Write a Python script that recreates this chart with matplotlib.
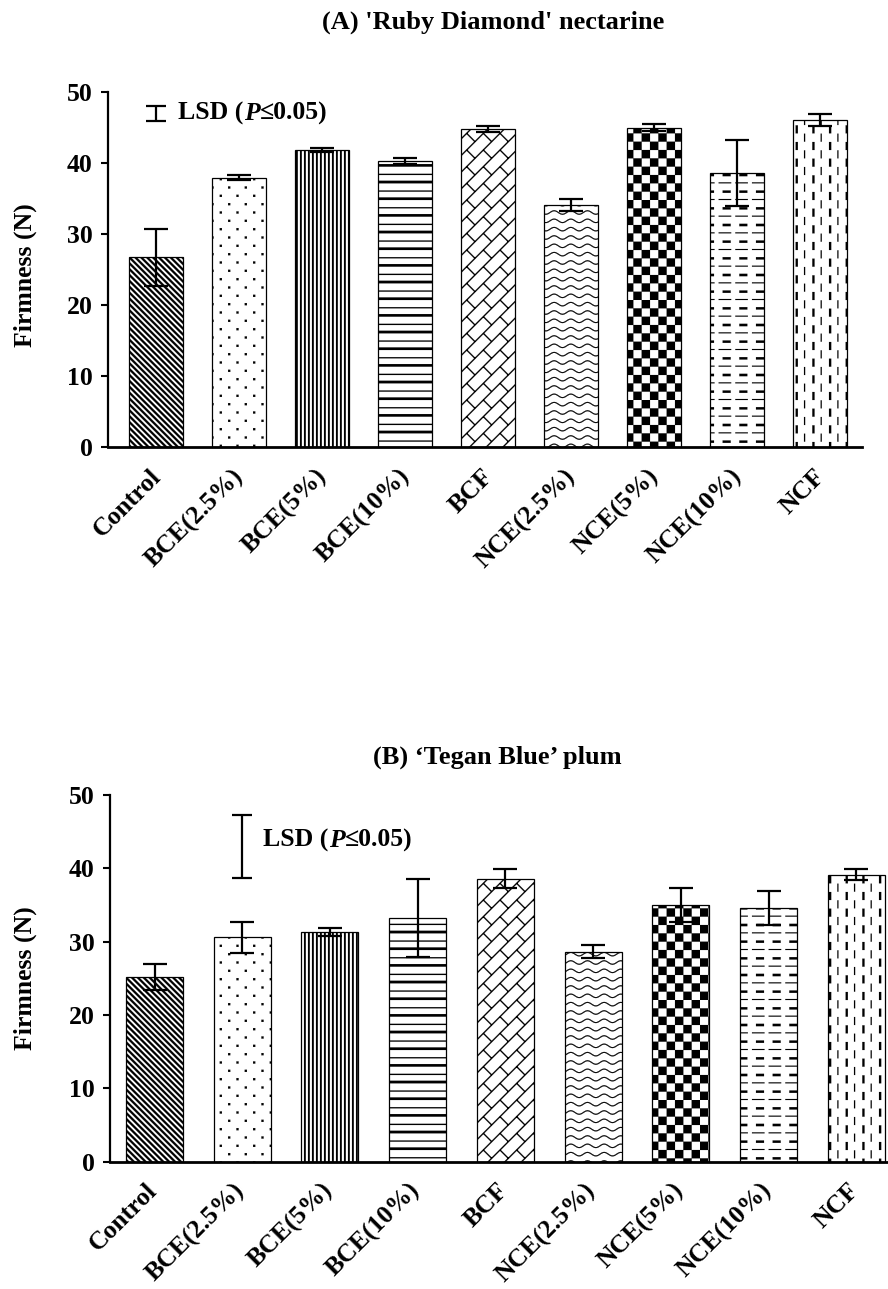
import warnings
warnings.filterwarnings("ignore")
import numpy as np
import matplotlib
matplotlib.use("Agg")
import matplotlib.pyplot as plt
import matplotlib.hatch as mhatch
from matplotlib.path import Path
from matplotlib.transforms import offset_copy

plt.rcParams['font.family'] = ['Liberation Serif', 'DejaVu Serif']
plt.rcParams['font.weight'] = 'bold'
plt.rcParams['hatch.linewidth'] = 0.1

# ---------------- data ----------------
categories = ['Control', 'BCE(2.5%)', 'BCE(5%)', 'BCE(10%)', 'BCF',
              'NCE(2.5%)', 'NCE(5%)', 'NCE(10%)', 'NCF']
firmness_A = [26.7, 37.9, 41.8, 40.2, 44.7, 34.0, 44.9, 38.5, 46.0]
error_A = [4.0, 0.3, 0.3, 0.4, 0.4, 0.85, 0.5, 4.65, 0.8]
firmness_B = [25.2, 30.6, 31.3, 33.2, 38.6, 28.65, 35.0, 34.6, 39.1]
error_B = [1.8, 2.1, 0.5, 5.35, 1.25, 0.9, 2.35, 2.35, 0.75]
lsd_A_center, lsd_A_half = 46.9, 1.1
lsd_B_center, lsd_B_half = 43.0, 4.3
yticks = [0, 10, 20, 30, 40, 50]
title_A = "(A) 'Ruby Diamond' nectarine"
title_B = "(B) \u2018Tegan Blue\u2019 plum"
hatch_codes = ['a', 'b', 'c', 'd', 'e', 'f', 'g', 'h', 'i']

# ---------------- custom hatch patterns (unit cell) ----------------
def _cw(p):
    p = np.asarray(p, float)
    x, y = p[:, 0], p[:, 1]
    area = 0.5 * np.sum(x * np.roll(y, -1) - np.roll(x, -1) * y)
    return p[::-1] if area > 0 else p

def seg(p0, p1, w):
    p0 = np.asarray(p0, float); p1 = np.asarray(p1, float)
    d = p1 - p0
    d = d / np.hypot(*d)
    n = np.array([-d[1], d[0]]) * w / 2
    return _cw([p0 + n, p1 + n, p1 - n, p0 - n])

def rect(x0, y0, w, h):
    return _cw([(x0, y0), (x0 + w, y0), (x0 + w, y0 + h), (x0, y0 + h)])

H = {}
# a: dense "\" stripes
n = 17; w = 0.03
H['a'] = [_cw([(-0.1, c + 0.1), (1.1, c - 1.1), (1.1, c + w - 1.1), (-0.1, c + w + 0.1)])
          for c in [k / n for k in range(-2, 2 * n + 2)]]
# b: sparse staggered dots
H['b'] = []
for j in range(12):
    for i in range(6):
        x = (i + 0.25) / 6 + (j % 2) * 0.5 / 6
        y = (j + 0.5) / 12
        H['b'].append(rect(x - 0.011, y - 0.011, 0.022, 0.022))
# c: dense vertical lines
H['c'] = [rect(k / 25, -0.1, 0.018, 1.2) for k in range(-1, 26)]
# d: horizontal lines alternating thick / thin
H['d'] = [rect(-0.1, k / 12, 1.2, 0.026 if k % 2 == 0 else 0.012) for k in range(-1, 13)]
# e: diagonal brick
H['e'] = []
for k in range(-7, 8):
    c = k / 6
    H['e'].append(seg(((-1.5 + c) / 2, (-1.5 - c) / 2), ((3.5 + c) / 2, (3.5 - c) / 2), 0.012))
    for j in range(-2, 9):
        t = j / 3 + (k % 2) / 6
        c2 = (k + 1) / 6
        H['e'].append(seg(((t + c) / 2, (t - c) / 2), ((t + c2) / 2, (t - c2) / 2), 0.012))
# f: wavy rows
H['f'] = []
xs = np.linspace(-0.1, 1.1, 121)
for j in range(-1, 13):
    y0 = (j + 0.5) / 12
    ys = y0 + 0.018 * np.sin(2 * np.pi * 6 * xs)
    for m in range(len(xs) - 1):
        H['f'].append(seg((xs[m], ys[m]), (xs[m + 1], ys[m + 1]), 0.009))
# g: checkerboard
H['g'] = [rect(i / 12, j / 12, 1 / 12, 1 / 12)
          for i in range(12) for j in range(12) if (i + j) % 2 == 0]
# h: horizontal dash rows (thin long / thick short)
H['h'] = []
for j in range(-1, 7):
    for i in range(-1, 7):
        H['h'].append(rect(i / 6 + 0.02, j / 6, 0.125, 0.010))
        H['h'].append(rect(i / 6 + 0.06, j / 6 + 1 / 12 - 0.012, 0.08, 0.024))
# i: vertical dash columns (thick / thin staggered)
H['i'] = []
for col in range(-1, 13):
    thick = col % 2 == 1
    wcol = 0.022 if thick else 0.011
    off = 0.0 if thick else 1 / 12
    for r in range(-1, 7):
        H['i'].append(rect(col / 12 + 0.04, r / 6 + off, wcol, 0.08))

class PolyHatch(mhatch.HatchPatternBase):
    def __init__(self, hatch, density):
        self.polys = []
        for ch in sorted(set(hatch)):
            self.polys.extend(H.get(ch, []))
        self.num_vertices = sum(len(p) + 1 for p in self.polys)

    def set_vertices_and_codes(self, vertices, codes):
        i = 0
        for p in self.polys:
            k = len(p)
            vertices[i:i + k] = p
            vertices[i + k] = p[0]
            codes[i] = Path.MOVETO
            codes[i + 1:i + k] = Path.LINETO
            codes[i + k] = Path.CLOSEPOLY
            i += k + 1

mhatch._hatch_types.append(PolyHatch)

# ---------------- figure ----------------
FS = 18.5
fig = plt.figure(figsize=(8.88, 12.89), dpi=100)
axA = fig.add_axes([0.1216, 0.6532, 0.8491, 0.2758])
axB = fig.add_axes([0.1239, 0.0988, 0.8761, 0.2844])

def draw(ax, vals, errs, width, xlim, lsd_x, lsd_c, lsd_h, lsd_cap, txt_x, txt_y, lab_dx, lab_dy):
    x = np.arange(len(categories))
    bars = ax.bar(x, vals, width=width, color='white', edgecolor='black', linewidth=0.9, zorder=2)
    for b, h in zip(bars, hatch_codes):
        b.set_hatch(h)
    ax.errorbar(x, vals, yerr=errs, fmt='none', ecolor='black', elinewidth=1.6,
                capsize=8.5, capthick=1.6, zorder=3)
    ax.errorbar([lsd_x], [lsd_c], yerr=[lsd_h], fmt='none', ecolor='black',
                elinewidth=1.6, capsize=lsd_cap, capthick=1.6, zorder=3)
    ax.set_xlim(*xlim)
    ax.set_ylim(0, 50)
    ax.set_yticks(yticks)
    ax.set_yticklabels([str(v) for v in yticks], fontsize=FS, fontweight='bold')
    ax.set_xticks(x)
    ax.set_xticklabels([])
    # category labels, rotated, anchored below each bar
    lab_tr = offset_copy(ax.get_xaxis_transform(), fig=fig, x=lab_dx, y=-lab_dy, units='dots')
    for xi, name in zip(x, categories):
        ax.text(xi, 0, name, transform=lab_tr, rotation=45, ha='right', va='top',
                rotation_mode='anchor', fontsize=FS, fontweight='bold', clip_on=False)
    ax.tick_params(axis='x', length=0, pad=4)
    ax.tick_params(axis='y', length=5, width=1.5, pad=6, direction='out')
    for s in ['top', 'right']:
        ax.spines[s].set_visible(False)
    ax.spines['left'].set_linewidth(1.6)
    ax.spines['bottom'].set_linewidth(2.0)
    # LSD label with italic P
    r = fig.canvas.get_renderer()
    kw = dict(fontsize=FS, fontweight='bold', va='center')
    t1 = ax.text(txt_x, txt_y, "LSD (", **kw)
    w1 = t1.get_window_extent(r).width
    t2 = ax.text(txt_x, txt_y, "P", style='italic',
                 transform=offset_copy(ax.transData, fig=fig, x=w1 + 1, y=0, units='dots'), **kw)
    w2 = t2.get_window_extent(r).width
    ax.text(txt_x, txt_y, "\u22640.05)",
            transform=offset_copy(ax.transData, fig=fig, x=w1 + w2 + 1, y=0, units='dots'), **kw)

draw(axA, firmness_A, error_A, 0.64, (-0.578, 8.506), 0, lsd_A_center, lsd_A_half, 7,
     0.265, lsd_A_center, -7, 18)
draw(axB, firmness_B, error_B, 0.65, (-0.507, 8.36), 1, lsd_B_center, lsd_B_half, 7,
     1.238, 43.8, -9, 17)

fig.text(493 / 888, 1 - 22 / 1289, title_A, ha='center', va='center', fontsize=19, fontweight='bold')
fig.text(497 / 888, 1 - 757 / 1289, title_B, ha='center', va='center', fontsize=19, fontweight='bold')
fig.text(25 / 888, 1 - 275 / 1289, "Firmness (N)", rotation=90, ha='center', va='center',
         fontsize=FS, fontweight='bold')
fig.text(25 / 888, 1 - 978 / 1289, "Firmness (N)", rotation=90, ha='center', va='center',
         fontsize=FS, fontweight='bold')

fig.savefig("out.png", dpi=100, facecolor='white')
